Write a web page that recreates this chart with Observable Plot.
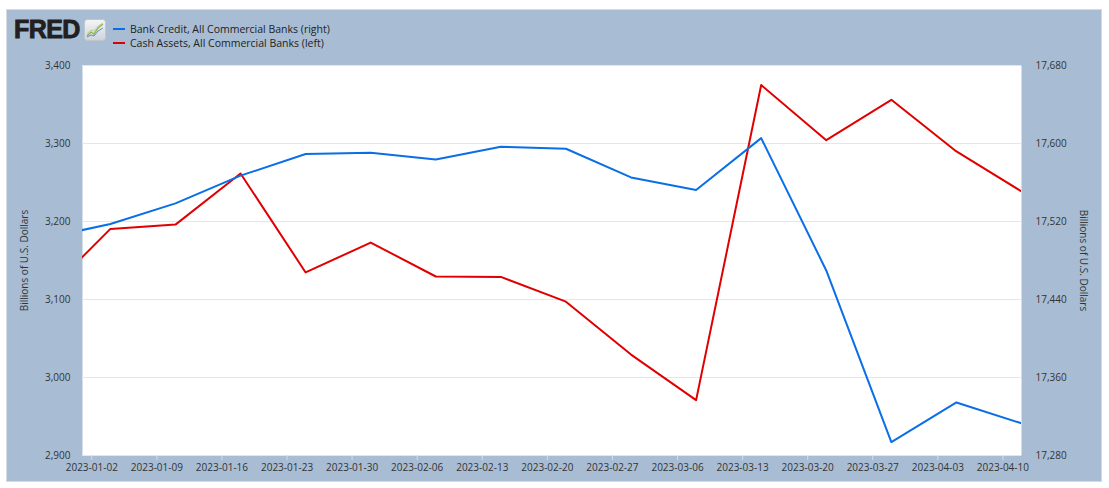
<!DOCTYPE html>
<html>
<head>
<meta charset="utf-8">
<script src="https://cdn.jsdelivr.net/npm/d3@7"></script>
<script src="https://cdn.jsdelivr.net/npm/@observablehq/plot@0.6"></script>
<style>
  html, body { margin: 0; padding: 0; background: #ffffff; }
  body { font-family: "Open Sans", sans-serif; }
  #panel { position: absolute; left: 7px; top: 10px; width: 1094px; height: 471px; background: #a8bdd3; box-shadow: 0 0 0 1px #d4dbe2; }
  #head { position: relative; height: 45px; }
  #logo { position: absolute; left: 7px; top: 6px; font: bold 25px "Liberation Sans", Arial, sans-serif; color: #231f20; letter-spacing: -0.6px; line-height: 26px; -webkit-text-stroke: 0.9px #231f20; }
  #icon { position: absolute; left: 77px; top: 9px; }
  .leg { position: absolute; left: 106px; font-size: 10.5px; color: #222; line-height: 13px; white-space: nowrap; }
  .leg span.sw { display: inline-block; width: 12px; height: 2px; vertical-align: middle; margin-right: 5px; position: relative; top: -1px; }
  #chart svg { display: block; }
</style>
</head>
<body>
<div id="panel">
  <div id="head">
    <div id="logo">FRED</div>
    <svg id="icon" width="22" height="22" viewBox="0 0 22 22">
      <defs>
        <linearGradient id="ig" x1="0" y1="0" x2="0" y2="1">
          <stop offset="0" stop-color="#f4f5f6"/>
          <stop offset="1" stop-color="#cfd4d9"/>
        </linearGradient>
      </defs>
      <rect x="0.5" y="0.5" width="21" height="21" rx="3" fill="url(#ig)" stroke="#c0c6cc"/>
      <polyline points="3,17 7,13 10,15 14,9 19,5" fill="none" stroke="#8db24f" stroke-width="1.3"/>
      <polyline points="3,18 7,16 10,17 14,12 19,9" fill="none" stroke="#5f8fc4" stroke-width="1"/>
      <polyline points="3,15 7,11 10,12 14,7 19,4" fill="none" stroke="#b6c98a" stroke-width="0.8"/>
    </svg>
    <div class="leg" style="top:12.5px"><span class="sw" style="background:#0a6fe6"></span>Bank Credit, All Commercial Banks (right)</div>
    <div class="leg" style="top:26.5px"><span class="sw" style="background:#e00000"></span>Cash Assets, All Commercial Banks (left)</div>
  </div>
  <div id="chart"></div>
</div>
<script>
// Weekly observations (Wednesdays)
const dates = ["2022-12-28","2023-01-04","2023-01-11","2023-01-18","2023-01-25","2023-02-01","2023-02-08","2023-02-15","2023-02-22","2023-03-01","2023-03-08","2023-03-15","2023-03-22","2023-03-29","2023-04-05","2023-04-12"];
// Cash Assets, All Commercial Banks (left axis), billions USD
const cashAssets = [3107, 3190.5, 3196, 3261.6, 3134.7, 3173, 3129.5, 3129, 3097.2, 3029.4, 2971, 3375, 3304.3, 3356, 3289.8, 3238.6];
// Bank Credit, All Commercial Banks (right axis), billions USD
const bankCredit = [17503, 17517.5, 17538.6, 17567, 17589.2, 17590.5, 17583.6, 17596.6, 17594.6, 17565.2, 17552.4, 17605.5, 17469.8, 17293.8, 17334.4, 17313];
// Axis ticks
const xTickLabels = ["2023-01-02","2023-01-09","2023-01-16","2023-01-23","2023-01-30","2023-02-06","2023-02-13","2023-02-20","2023-02-27","2023-03-06","2023-03-13","2023-03-20","2023-03-27","2023-04-03","2023-04-10"];
const leftTicks = [2900, 3000, 3100, 3200, 3300, 3400];
const rightTicks = [17280, 17360, 17440, 17520, 17600, 17680];
const xDomain = ["2023-01-01", "2023-04-12"];
const axisTitle = "Billions of U.S. Dollars";

const L0 = leftTicks[0], L1 = leftTicks[leftTicks.length - 1];
const R0 = rightTicks[0], R1 = rightTicks[rightTicks.length - 1];
const toLeft = r => L0 + (r - R0) * (L1 - L0) / (R1 - R0);
const toRight = l => R0 + (l - L0) * (R1 - R0) / (L1 - L0);

const parse = d3.utcParse("%Y-%m-%d");
const rows = dates.map((d, i) => ({date: parse(d), cash: cashAssets[i], credit: bankCredit[i]}));
const fmt = d3.format(",");

const chart = Plot.plot({
  width: 1094,
  height: 426,
  marginTop: 10,
  marginBottom: 26,
  marginLeft: 75,
  marginRight: 80,
  style: {fontFamily: "'Open Sans', sans-serif", fontSize: "10px", background: "transparent", color: "#333"},
  x: {type: "utc", domain: xDomain.map(parse)},
  y: {domain: [L0, L1]},
  marks: [
    Plot.frame({fill: "#ffffff", stroke: "none"}),
    Plot.gridY(leftTicks, {stroke: "#e6e6e6", strokeOpacity: 1}),
    Plot.axisY(leftTicks, {anchor: "left", tickSize: 0, tickPadding: 12, tickFormat: fmt, label: null, fill: "#333"}),
    Plot.axisY(rightTicks.map(toLeft), {anchor: "right", tickSize: 0, tickPadding: 14, tickFormat: v => fmt(Math.round(toRight(v))), label: null, fill: "#333"}),
    Plot.axisX(xTickLabels.map(parse), {tickSize: 5, tickPadding: 3, stroke: "#d3dce6", strokeOpacity: 1, tickFormat: d3.utcFormat("%Y-%m-%d"), label: null, fill: "#333"}),
    Plot.lineY(rows, {x: "date", y: "cash", stroke: "#e00000", strokeWidth: 2, clip: true}),
    Plot.lineY(rows, {x: "date", y: d => toLeft(d.credit), stroke: "#0a6fe6", strokeWidth: 2, clip: true}),
    Plot.text([axisTitle], {frameAnchor: "left", rotate: -90, dx: -58, textAnchor: "middle", fill: "#333", fontSize: 10}),
    Plot.text([axisTitle], {frameAnchor: "right", rotate: 90, dx: 62, textAnchor: "middle", fill: "#333", fontSize: 10})
  ]
});
document.getElementById("chart").appendChild(chart);
</script>
</body>
</html>
